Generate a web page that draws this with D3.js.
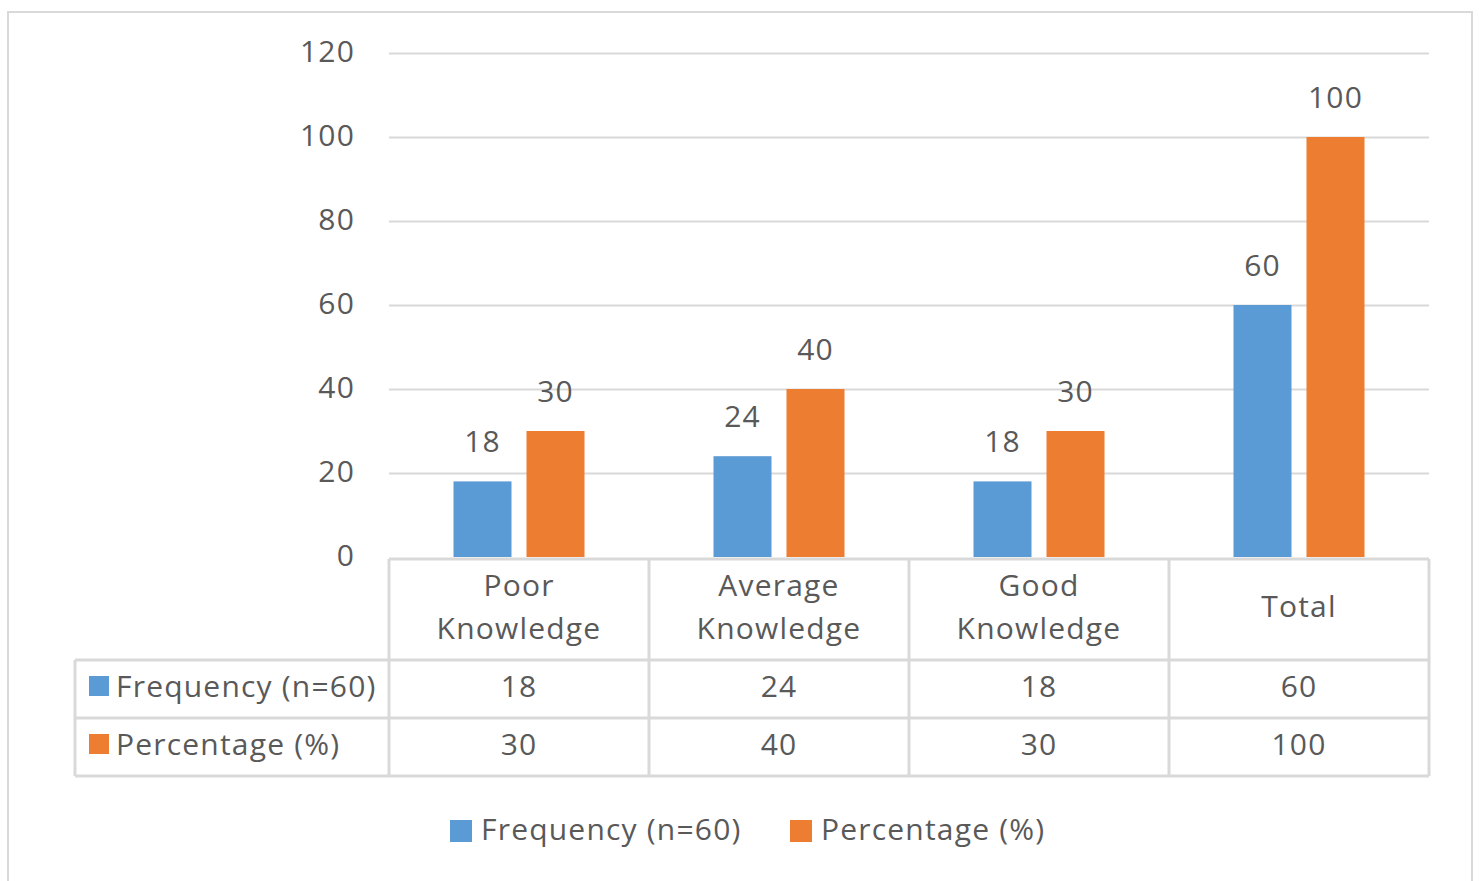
<!DOCTYPE html>
<html>
<head>
<meta charset="utf-8">
<script src="https://cdn.jsdelivr.net/npm/d3@7"></script>
<style>
  html, body { margin: 0; padding: 0; background: #fff; }
  svg { display: block; }
  text { font-family: "Open Sans", "Liberation Sans", sans-serif; fill: #595959; letter-spacing: 1.2px; }
</style>
</head>
<body>
<svg id="chart" width="1479" height="881"></svg>
<script>
const categories = [["Poor", "Knowledge"], ["Average", "Knowledge"], ["Good", "Knowledge"], ["Total"]];
const seriesNames = ["Frequency (n=60)", "Percentage (%)"];
const frequency = [18, 24, 18, 60];
const percentage = [30, 40, 30, 100];
const yTicks = [0, 20, 40, 60, 80, 100, 120];
const colors = ["#5b9bd5", "#ed7d31"];

const series = [frequency, percentage];
const catKeys = categories.map(c => c.join(" "));

const svg = d3.select("#chart");
const FS = 30;

// outer border
svg.append("rect").attr("x", 8).attr("y", 12).attr("width", 1464).attr("height", 880)
  .attr("fill", "#fff").attr("stroke", "#d9d9d9").attr("stroke-width", 2);

const plotL = 389, plotR = 1429, plotT = 53, plotB = 557;

const x = d3.scaleBand().domain(catKeys).range([plotL, plotR]).paddingInner(0).paddingOuter(0);
const groupPad = (x.bandwidth() - 131) / 2;
const x1 = d3.scaleBand().domain([0, 1]).range([groupPad, x.bandwidth() - groupPad]).paddingInner(0.2055).paddingOuter(0);
const y = d3.scaleLinear().domain([0, 120]).range([plotB, plotT]);

// gridlines
svg.append("g").selectAll("line").data(yTicks.filter(t => t > 0)).join("line")
  .attr("x1", plotL).attr("x2", plotR)
  .attr("y1", d => Math.round(y(d)) + 0.5).attr("y2", d => Math.round(y(d)) + 0.5)
  .attr("stroke", "#d9d9d9").attr("stroke-width", 2);

// y axis labels
const yAxis = d3.axisLeft(y).tickValues(yTicks).tickSize(0).tickPadding(0);
const ga = svg.append("g").attr("transform", `translate(355,-2)`).call(yAxis);
ga.select(".domain").remove();
ga.selectAll("text").attr("font-size", FS).attr("font-family", null).attr("fill", "#595959")
  .attr("dy", "0.35em");

// bars
const groups = svg.append("g").selectAll("g").data(catKeys).join("g")
  .attr("transform", d => `translate(${x(d)},0)`);
groups.selectAll("rect").data((d, i) => series.map((s, j) => ({ j, v: s[i] }))).join("rect")
  .attr("x", d => x1(d.j)).attr("width", x1.bandwidth())
  .attr("y", d => y(d.v)).attr("height", d => y(0) - y(d.v))
  .attr("fill", d => colors[d.j]);
groups.selectAll("text").data((d, i) => series.map((s, j) => ({ j, v: s[i] }))).join("text")
  .attr("x", d => x1(d.j) + x1.bandwidth() / 2).attr("y", d => y(d.v) - 29)
  .attr("text-anchor", "middle").attr("font-size", FS).text(d => d.v);

// data table
const tblTop = 559, row1 = 660, row2 = 718, tblBot = 776, tblLeft = 75;
const tg = svg.append("g").attr("stroke", "#d9d9d9").attr("stroke-width", 3);
tg.append("line").attr("x1", plotL).attr("x2", plotR).attr("y1", tblTop).attr("y2", tblTop);
[row1, row2, tblBot].forEach(yy => tg.append("line").attr("x1", tblLeft).attr("x2", plotR).attr("y1", yy).attr("y2", yy));
catKeys.forEach(k => tg.append("line").attr("x1", x(k)).attr("x2", x(k)).attr("y1", tblTop).attr("y2", tblBot));
tg.append("line").attr("x1", plotR).attr("x2", plotR).attr("y1", tblTop).attr("y2", tblBot);
tg.append("line").attr("x1", tblLeft).attr("x2", tblLeft).attr("y1", row1).attr("y2", tblBot);

// category headers
categories.forEach((c, i) => {
  const cx = x(catKeys[i]) + x.bandwidth() / 2;
  const t = svg.append("text").attr("text-anchor", "middle").attr("font-size", FS);
  if (c.length === 2) {
    t.append("tspan").attr("x", cx).attr("y", 596).text(c[0]);
    t.append("tspan").attr("x", cx).attr("y", 639).text(c[1]);
  } else {
    t.append("tspan").attr("x", cx).attr("y", 617).text(c[0]);
  }
});

// table rows
const rowYs = [(row1 + row2) / 2 - 3, (row2 + tblBot) / 2 - 3];
series.forEach((s, j) => {
  svg.append("rect").attr("x", 89).attr("y", rowYs[j] - 10).attr("width", 20).attr("height", 20).attr("fill", colors[j]);
  svg.append("text").attr("x", 116).attr("y", rowYs[j]).attr("dy", "0.35em").attr("font-size", FS).text(seriesNames[j]);
  s.forEach((v, i) => {
    svg.append("text").attr("x", x(catKeys[i]) + x.bandwidth() / 2).attr("y", rowYs[j]).attr("dy", "0.35em")
      .attr("text-anchor", "middle").attr("font-size", FS).text(v);
  });
});

// legend
const legY = 831;
const legX = [450, 790];
seriesNames.forEach((n, j) => {
  svg.append("rect").attr("x", legX[j]).attr("y", legY - 11).attr("width", 22).attr("height", 22).attr("fill", colors[j]);
  svg.append("text").attr("x", legX[j] + 31).attr("y", legY - 2).attr("dy", "0.35em").attr("font-size", FS).text(n);
});
</script>
</body>
</html>
